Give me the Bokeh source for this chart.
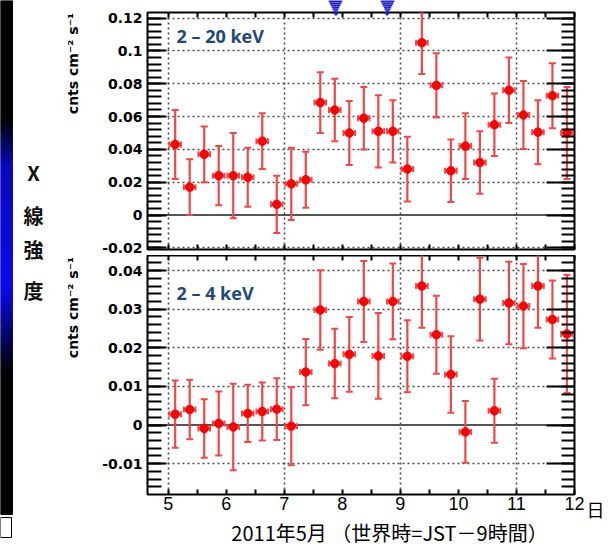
import numpy as np
from bokeh.plotting import figure
from bokeh.models import (Range1d, LinearAxis, FixedTicker, SingleIntervalTicker,
                          CustomJSTickFormatter, Span, Label, ColumnDataSource)
from bokeh.layouts import row, column
from bokeh.embed import file_html
from bokeh.resources import INLINE
from bokeh.core.properties import value

# ---------------- data ----------------
time_days = [5.12, 5.37, 5.62, 5.87, 6.12, 6.37, 6.62, 6.87, 7.12, 7.37,
             7.62, 7.87, 8.12, 8.37, 8.62, 8.87, 9.12, 9.37, 9.62, 9.87,
             10.12, 10.37, 10.62, 10.87, 11.12, 11.37, 11.62, 11.87]
bin_half_width = 0.1

rate_2_20 = [0.043, 0.017, 0.037, 0.024, 0.024, 0.023, 0.045, 0.0065, 0.019, 0.0215,
             0.0685, 0.064, 0.050, 0.059, 0.051, 0.051, 0.028, 0.105, 0.079, 0.027,
             0.042, 0.032, 0.055, 0.076, 0.061, 0.0505, 0.0727, 0.050]
err_2_20 = [0.021, 0.017, 0.017, 0.018, 0.026, 0.018, 0.017, 0.0175, 0.022, 0.017,
            0.0185, 0.019, 0.0195, 0.019, 0.022, 0.019, 0.0197, 0.019, 0.0196, 0.019,
            0.020, 0.019, 0.019, 0.020, 0.0207, 0.0195, 0.0198, 0.028]

rate_2_4 = [0.0028, 0.0040, -0.0009, 0.0004, -0.0005, 0.0030, 0.0035, 0.0041, -0.0003, 0.0137,
            0.0298, 0.0159, 0.0183, 0.0320, 0.0179, 0.0320, 0.0178, 0.0360, 0.0234, 0.0131,
            -0.0018, 0.0326, 0.0037, 0.0316, 0.0308, 0.0360, 0.0273, 0.0236]
err_2_4 = [0.0087, 0.0077, 0.0076, 0.0083, 0.0112, 0.0074, 0.0075, 0.0080, 0.0101, 0.0086,
           0.0103, 0.0090, 0.0097, 0.0105, 0.0111, 0.0098, 0.0093, 0.0108, 0.0101, 0.0099,
           0.0080, 0.0107, 0.0083, 0.0107, 0.0109, 0.0108, 0.0101, 0.0153]

day_ticks = [5, 6, 7, 8, 9, 10, 11, 12]
half_day_ticks = [5.5, 6.5, 7.5, 8.5, 9.5, 10.5, 11.5]
grid_days = [5, 7, 9, 11]
top_grid_values = [-0.02, 0.02, 0.04, 0.06, 0.08, 0.10, 0.12]
bottom_grid_values = [-0.01, 0.01, 0.02, 0.03, 0.04]
event_days = [7.89, 8.77]
panel_labels = ["2 \u2013 20 keV", "2 \u2013 4 keV"]
y_unit_label = "cnts cm\u207b\u00b2 s\u207b\u00b9"
x_title = "2011年5月 （世界時=JST－9時間）"
x_unit = "日"
side_title = ["X", "線", "強", "度"]

# ---------------- layout constants (page pixels) ----------------
PAGE_H = 551
X0, X1 = 4.643, 12.0
FRAME_L, FRAME_W = 147.0, 427.0
COL_L, COL_R = 90.0, 586.0
TOP_Y = (-0.021, 0.1234)
BOT_Y = (-0.018, 0.0439)
TOP_FRAME_T, TOP_FRAME_H = 12.0, 237.0
BOT_FRAME_T, BOT_FRAME_H = 255.0, 239.0
TOP_BORDER_B = int(BOT_FRAME_T - TOP_FRAME_T - TOP_FRAME_H)
BOT_BORDER_B = 23
FOOT_T = BOT_FRAME_T + BOT_FRAME_H + BOT_BORDER_B

RED_BAR = "#f04848"
RED_DOT = "#ff0000"
GRID_C = "#4a4a4a"
TRI_C = "#2626c4"
# marker band widths (px) of the event triangles inside the top border, frame side first
TRI_BAND_W = [3.5, 5.5, 7.5, 9.5, 11.5, 13.5]


def xd(px):
    return X0 + (px - FRAME_L) / FRAME_W * (X1 - X0)


def ytop(py):
    return TOP_Y[1] - (py - TOP_FRAME_T) / TOP_FRAME_H * (TOP_Y[1] - TOP_Y[0])


def ybot(py):
    return BOT_Y[1] - (py - BOT_FRAME_T) / BOT_FRAME_H * (BOT_Y[1] - BOT_Y[0])


def up(py):
    return PAGE_H - py


fmt_code = """
let s = tick.toFixed(2);
s = s.replace(/0+$/, '').replace(/\\.$/, '');
if (s == '-0') { s = '0'; }
return s;
"""
blank_code = "return '';"


def plain(width, height, xr, yr):
    f = figure(width=width, height=height, x_range=xr, y_range=yr, min_border=0,
               x_axis_location=None, y_axis_location=None, frame_align=False,
               output_backend="svg", toolbar_location=None)
    f.grid.visible = False
    f.outline_line_color = None
    f.background_fill_color = "white"
    f.border_fill_color = "white"
    return f


def hidden_axis(ticker, tin, minor_in=0, width=2, color="black", tout=0):
    return LinearAxis(ticker=ticker, formatter=CustomJSTickFormatter(code=blank_code),
                      axis_line_color=None, major_tick_in=tin, major_tick_out=tout,
                      minor_tick_in=minor_in, minor_tick_out=0,
                      major_tick_line_width=width, minor_tick_line_width=width,
                      major_tick_line_color=color, minor_tick_line_color=color,
                      major_label_text_font_size="0px", major_label_standoff=0)


def make_panel(yr, interval, grid_vals, border_top, frame_h, border_bottom,
               rates, errs, label_text, label_y, show_x):
    p = figure(frame_width=int(FRAME_W), frame_height=int(frame_h),
               min_border_left=int(FRAME_L - COL_L),
               min_border_right=int(COL_R - FRAME_L - FRAME_W),
               min_border_top=border_top, min_border_bottom=border_bottom,
               x_range=Range1d(X0, X1), y_range=Range1d(*yr),
               output_backend="svg", toolbar_location=None)
    p.background_fill_color = "white"
    p.border_fill_color = "white"
    p.outline_line_color = "black"
    p.outline_line_width = 2

    ya = p.yaxis[0]
    ya.ticker = SingleIntervalTicker(interval=interval, num_minor_ticks=5)
    ya.formatter = CustomJSTickFormatter(code=fmt_code)
    ya.axis_line_color = None
    ya.major_tick_in, ya.major_tick_out = 19, 0
    ya.minor_tick_in, ya.minor_tick_out = 14, 0
    ya.major_tick_line_width = 2
    ya.minor_tick_line_width = 2
    ya.major_label_standoff = 5
    ya.major_label_text_font = "DejaVu Sans"
    ya.major_label_text_font_style = "bold"
    ya.major_label_text_font_size = "14px"
    ya.major_label_text_color = "black"

    xa = p.xaxis[0]
    xa.ticker = FixedTicker(ticks=day_ticks, minor_ticks=half_day_ticks)
    xa.axis_line_color = None
    xa.major_tick_in, xa.major_tick_out = 5, 0
    xa.minor_tick_in, xa.minor_tick_out = 5, 0
    xa.major_tick_line_width = 2
    xa.minor_tick_line_width = 2
    if show_x:
        xa.major_label_standoff = 2
        xa.major_label_text_font = "Liberation Sans"
        xa.major_label_text_font_size = "18px"
        xa.major_label_text_color = "black"
    else:
        xa.formatter = CustomJSTickFormatter(code=blank_code)
        xa.major_label_text_font_size = "0px"
        xa.major_label_standoff = 0

    p.add_layout(hidden_axis(SingleIntervalTicker(interval=interval, num_minor_ticks=5),
                             28, 13), "right")
    p.add_layout(hidden_axis(FixedTicker(ticks=day_ticks, minor_ticks=half_day_ticks),
                             5, 5), "above")

    p.xgrid.ticker = FixedTicker(ticks=grid_days)
    p.ygrid.ticker = FixedTicker(ticks=grid_vals)
    for g in (p.xgrid, p.ygrid):
        g.grid_line_color = GRID_C
        g.grid_line_dash = "2 3"
        g.grid_line_width = 1.6
    p.add_layout(Span(location=0, dimension="width", line_color="#555555",
                      line_width=2, level="underlay"))

    y = np.array(rates)
    e = np.array(errs)
    x = np.array(time_days)
    src = ColumnDataSource(dict(x=x, y=y, ylo=y - e, yhi=y + e,
                                xlo=x - bin_half_width, xhi=x + bin_half_width))
    p.segment(x0="x", y0="ylo", x1="x", y1="yhi", source=src,
              line_color=RED_BAR, line_width=2.2)
    p.segment(x0="xlo", y0="y", x1="xhi", y1="y", source=src,
              line_color=RED_BAR, line_width=2.2)
    for col in ("ylo", "yhi"):
        p.scatter(x="x", y=col, source=src, marker="dash", size=7,
                  line_color=RED_BAR, line_width=2)
    for col in ("xlo", "xhi"):
        p.scatter(x=col, y="y", source=src, marker="dash", size=6, angle=np.pi / 2,
                  line_color=RED_BAR, line_width=2)
    p.scatter(x="x", y="y", source=src, marker="circle", size=8.5,
              fill_color=RED_DOT, line_color=RED_DOT)

    p.add_layout(Label(x=xd(176), y=label_y,
                       text=label_text, text_font="Open Sans",
                       text_font_style="bold", text_font_size="18px",
                       text_color="#1F497D", text_align="left",
                       text_baseline="middle"))
    return p


top = make_panel(TOP_Y, 0.02, top_grid_values, int(TOP_FRAME_T), TOP_FRAME_H, TOP_BORDER_B,
                 rate_2_20, err_2_20, panel_labels[0], ytop(35), False)
# event markers: triangle tips inside the frame ...
top.patches(xs=[[d - 0.05, d + 0.05, d] for d in event_days],
            ys=[[ytop(TOP_FRAME_T), ytop(TOP_FRAME_T), ytop(15)] for _ in event_days],
            fill_color=TRI_C, line_color=TRI_C, line_width=1)
# ... and their wider part in the border above the frame (stacked tick bands)
band_h = int(TOP_FRAME_T) // len(TRI_BAND_W)
for w in TRI_BAND_W:
    top.add_layout(hidden_axis(FixedTicker(ticks=event_days, minor_ticks=[]), 0,
                               width=w, color=TRI_C, tout=band_h), "above")

bot = make_panel(BOT_Y, 0.01, bottom_grid_values, 0, BOT_FRAME_H, BOT_BORDER_B,
                 rate_2_4, err_2_4, panel_labels[1], ybot(292), True)

# footer with the x title
foot_h = int(PAGE_H - FOOT_T)
footer = plain(int(COL_R - COL_L), foot_h, Range1d(COL_L, COL_R), Range1d(0, foot_h))
footer.text(x=[389], y=[foot_h - (532 - FOOT_T)], text=[x_title],
            text_font=value("Noto Sans CJK JP"), text_font_size="20px",
            text_align="center", text_baseline="middle", text_color="black")

# left strip: gradient bar, vertical title, unit labels
strip = plain(int(COL_L), PAGE_H, Range1d(0, COL_L), Range1d(0, PAGE_H))
rows_top = np.arange(0, 514, 2.0)
stops = [0, 120, 165, 230, 285, 300, 372, 514]
level = [0.0, 0.0, 0.72, 0.82, 0.92, 0.78, 0.0, 0.0]
b = np.interp(rows_top + 1, stops, level)
cols = ["#%02x%02x%02x" % (int(12 * v), int(12 * v), int(255 * v)) for v in b]
strip.quad(left=0, right=12, top=up(rows_top), bottom=up(rows_top + 2),
           fill_color=cols, line_color=cols, line_width=1)
strip.quad(left=[0], right=[11], top=[up(517)], bottom=[up(537)], fill_color="white",
           line_color="black", line_width=1)
strip.text(x=[33, 33, 33, 33], y=[up(172), up(215), up(249), up(290)], text=side_title,
           text_font=value("Noto Sans CJK JP"), text_font_style="bold",
           text_font_size="20px", text_align="center", text_baseline="middle",
           text_color="#111111")
strip.text(x=[72, 72], y=[up(63), up(307)], text=[y_unit_label, y_unit_label],
           angle=np.pi / 2, text_font=value("DejaVu Sans"), text_font_style="bold",
           text_font_size="14px", text_align="center", text_baseline="middle",
           text_color="black")

# right strip: day unit
rstrip = plain(23, PAGE_H, Range1d(COL_R, COL_R + 23), Range1d(0, PAGE_H))
rstrip.text(x=[595], y=[up(508)], text=[x_unit], text_font=value("Noto Sans CJK JP"),
            text_font_size="18px", text_align="center", text_baseline="middle",
            text_color="black")

layout = row(strip, column(top, bot, footer), rstrip)
open("out.html", "w").write(file_html(layout, INLINE))
